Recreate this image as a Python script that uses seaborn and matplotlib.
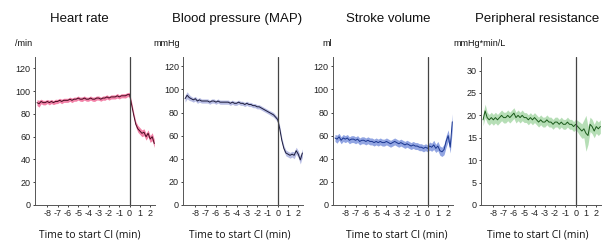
import numpy as np
import pandas as pd
import seaborn as sns
import matplotlib.pyplot as plt

# time grid (min relative to start of CI), 0.2 min steps
t = np.round(np.arange(-9.0, 2.41, 0.2), 1)

hr = [90, 89, 91, 90, 90, 91, 90, 91, 90, 91,
      91, 92, 91, 92, 92, 92, 93, 92, 93, 93,
      94, 93, 93, 94, 93, 93, 94, 93, 93, 94,
      94, 93, 94, 94, 95, 94, 95, 95, 95, 96,
      95, 96, 96, 96, 97, 97,
      88, 79, 71, 67, 65, 63, 64, 60, 63, 58, 60, 54]
hr_sem = [2.5, 3, 2, 2, 2, 1.8, 2, 1.8, 1.8, 2,
          1.8, 1.8, 2, 1.8, 1.8, 1.8, 1.8, 2, 1.8, 1.8,
          1.8, 1.8, 2, 1.8, 1.8, 1.8, 1.8, 1.8, 2, 1.8,
          1.8, 1.8, 1.8, 2, 1.8, 1.8, 1.8, 1.8, 1.8, 2,
          1.8, 1.8, 1.8, 2, 1.8, 2,
          2.5, 2.5, 2.5, 3, 3, 3, 3, 3, 3, 3, 3.5, 3.5]

bp = [92, 95, 93, 92, 91, 92, 90, 91, 90, 90,
      90, 90, 89, 90, 90, 89, 90, 89, 89, 89,
      89, 89, 88, 89, 88, 88, 89, 88, 88, 87,
      88, 87, 87, 86, 86, 85, 85, 84, 83, 82,
      81, 80, 79, 78, 76, 74,
      66, 56, 49, 45, 44, 43, 44, 43, 47, 44, 39, 45]
bp_sem = [3, 3, 2.5, 2, 2, 2, 2, 2, 1.8, 1.8,
          1.8, 1.8, 1.8, 1.8, 1.8, 1.8, 1.8, 1.8, 1.8, 1.8,
          1.8, 1.8, 1.8, 1.8, 1.8, 1.8, 1.8, 1.8, 1.8, 1.8,
          1.8, 1.8, 1.8, 1.8, 1.8, 1.8, 1.8, 1.8, 1.8, 1.8,
          1.8, 1.8, 2, 2, 2, 2,
          2.5, 2.5, 2.5, 2.5, 2.5, 2.5, 2.5, 3, 3, 3, 3.5, 3.5]

sv = [58, 57, 59, 56, 58, 57, 58, 56, 57, 57,
      56, 57, 55, 56, 56, 55, 56, 55, 55, 54,
      55, 54, 55, 54, 54, 55, 54, 53, 54, 55,
      54, 53, 54, 53, 52, 53, 52, 51, 52, 51,
      51, 50, 50, 49, 50, 49,
      51, 50, 52, 49, 51, 47, 46, 48, 55, 60, 50, 72]
sv_sem = [3, 3.5, 3, 3, 3, 3, 3, 3, 3, 3,
          3, 3, 3, 3, 3, 3, 3, 3, 3, 3,
          3, 3, 3, 3, 3, 3, 3, 3, 3, 3,
          3, 3, 3, 3, 3, 3, 3, 3, 3, 3,
          3, 3, 3, 3, 3, 3,
          3.5, 3.5, 4, 3.5, 4, 4, 4, 4.5, 5, 5, 5, 7]

pr = [19, 21, 19.5, 19, 19.5, 19, 19.5, 19, 19.5, 20,
      19.5, 19.5, 20, 19.5, 20, 20.5, 19.5, 20, 19.5, 20,
      19.5, 19.5, 19, 19.5, 19, 19.5, 19, 18.5, 19, 18.5,
      18.5, 19, 18.5, 18.5, 18, 18.5, 18.5, 18, 18.5, 18,
      18, 18.5, 18, 18, 17.5, 18,
      17.5, 17, 16.5, 17, 16, 15.5, 18, 17.5, 16.5, 17.5, 17, 17.5]
pr_sem = [1.3, 1.5, 1.2, 1.2, 1.2, 1.2, 1.2, 1.2, 1.2, 1.2,
          1.2, 1.2, 1.2, 1.2, 1.2, 1.2, 1.2, 1.2, 1.2, 1.2,
          1.1, 1.1, 1.1, 1.1, 1.1, 1.1, 1.1, 1.1, 1.1, 1.1,
          1.1, 1.1, 1.1, 1.1, 1.1, 1.1, 1.1, 1.1, 1.1, 1.1,
          1.1, 1.1, 1.1, 1.1, 1.1, 1.2,
          1.3, 1.5, 1.6, 2, 4, 2, 1.6, 1.6, 1.5, 1.5, 1.5, 1.5]

titles = ["Heart rate", "Blood pressure (MAP)", "Stroke volume", "Peripheral resistance"]
units = ["/min", "mmHg", "ml", "mmHg*min/L"]
xticks = [-8, -7, -6, -5, -4, -3, -2, -1, 0, 1, 2]

sns.set_style("ticks")
plt.rcParams['font.family'] = ['Liberation Sans', 'DejaVu Sans']
plt.rcParams['axes.unicode_minus'] = False

fig = plt.figure(figsize=(6.02, 2.42), dpi=100)

panels = [
    (hr, hr_sem, "#ea2f6e", "#4a0c22", (0, 130), [0, 20, 40, 60, 80, 100, 120]),
    (bp, bp_sem, "#8a92d2", "#1c1c3c", (0, 128), [0, 20, 40, 60, 80, 100, 120]),
    (sv, sv_sem, "#4a6ad0", "#1a3690", (0, 128), [0, 20, 40, 60, 80, 100, 120]),
    (pr, pr_sem, "#86c886", "#1a5a1a", (0, 33), [0, 5, 10, 15, 20, 25, 30]),
]
lefts = [0.058, 0.304, 0.553, 0.799]
title_x = [79, 237, 388, 537]
unit_x = [15, 153, 322, 453]
xlab_x = [90, 240, 397, 538]

for i, (vals, sem, band_c, line_c, ylim, yticks) in enumerate(panels):
    ax = fig.add_axes([lefts[i], 0.153, 0.2, 0.611])
    df = pd.DataFrame({"t": t, "v": vals, "s": sem})
    ax.fill_between(df["t"], df["v"] - df["s"], df["v"] + df["s"],
                    color=band_c, alpha=0.6, lw=0)
    sns.lineplot(data=df, x="t", y="v", ax=ax, color=line_c, lw=0.7)
    ax.axvline(0, color="#444444", lw=0.9)
    ax.set_xlim(-9.2, 2.5)
    ax.set_ylim(*ylim)
    ax.set_xticks(xticks)
    ax.set_yticks(yticks)
    ax.tick_params(labelsize=6.5, length=1.5, width=0.6, pad=1.5, colors="#222222")
    ax.set_xlabel("")
    ax.set_ylabel("")
    sns.despine(ax=ax)
    for sp in ("left", "bottom"):
        ax.spines[sp].set_linewidth(0.7)
        ax.spines[sp].set_color("#555555")
    fig.text(title_x[i] / 602, 1 - 19 / 242, titles[i], ha="center", va="center",
             fontsize=9.5, color="#111111")
    fig.text(unit_x[i] / 602, 1 - 43 / 242, units[i], ha="left", va="center",
             fontsize=6.5, color="#111111")
    fig.text(xlab_x[i] / 602, 1 - 235 / 242, "Time to start CI (min)", ha="center",
             va="center", fontsize=7.5, color="#111111",
             family=["Open Sans", "DejaVu Sans"])

fig.savefig("out.png", dpi=100)
